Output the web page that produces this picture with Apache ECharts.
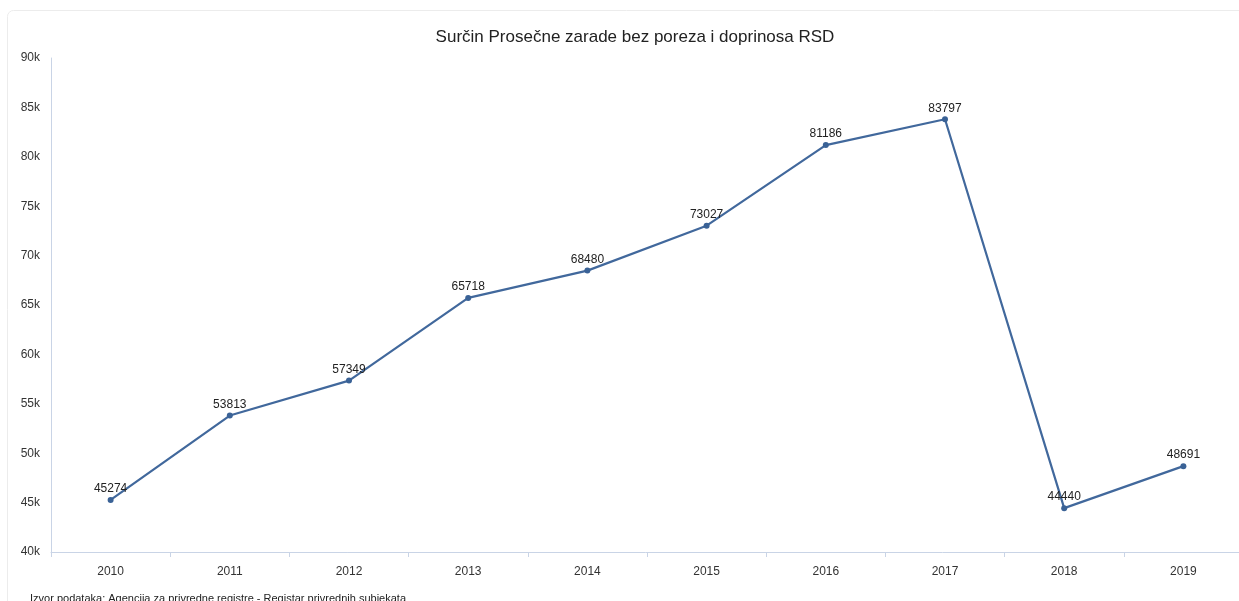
<!DOCTYPE html>
<html>
<head>
<meta charset="utf-8">
<script src="https://cdn.jsdelivr.net/npm/echarts@6/dist/echarts.min.js"></script>
<style>
  html, body { margin: 0; padding: 0; background: #fff; }
  #chart { width: 1239px; height: 601px; }
</style>
</head>
<body>
<div id="chart"></div>
<script>
const years = ['2010', '2011', '2012', '2013', '2014', '2015', '2016', '2017', '2018', '2019']
const zarade = [45274, 53813, 57349, 65718, 68480, 73027, 81186, 83797, 44440, 48691]

const chart = echarts.init(document.getElementById('chart'))

chart.setOption({
  animation: false,
  textStyle: { fontFamily: 'Liberation Sans, Arial, sans-serif' },
  title: {
    text: 'Surčin Prosečne zarade bez poreza i doprinosa RSD',
    left: 630,
    textAlign: 'center',
    top: 24,
    textStyle: { fontSize: 17, fontWeight: 'normal', color: '#222' }
  },
  graphic: [
    {
      type: 'rect',
      shape: { x: 7.5, y: 10.5, width: 1260, height: 620, r: 6 },
      style: { fill: 'none', stroke: '#ececec', lineWidth: 1 },
      silent: true
    },
    {
      type: 'text',
      left: 30,
      top: 593,
      style: {
        text: 'Izvor podataka: Agencija za privredne registre - Registar privrednih subjekata',
        fontSize: 11,
        fill: '#222',
        fontFamily: 'Liberation Sans, Arial, sans-serif'
      }
    }
  ],
  grid: { left: 51, top: 58, width: 1192, height: 494, outerBoundsMode: 'none', containLabel: false },
  xAxis: {
    type: 'category',
    data: years,
    boundaryGap: true,
    axisLine: { lineStyle: { color: '#c9d4e6' } },
    axisTick: { show: true, lineStyle: { color: '#c9d4e6' } },
    axisLabel: { color: '#333', fontSize: 12, margin: 14 }
  },
  yAxis: {
    type: 'value',
    min: 40000,
    max: 90000,
    interval: 5000,
    axisLine: { show: true, lineStyle: { color: '#c9d4e6' } },
    axisTick: { show: false },
    splitLine: { show: false },
    axisLabel: {
      color: '#333',
      fontSize: 12,
      margin: 11,
      formatter: v => (v / 1000) + 'k'
    }
  },
  series: [
    {
      type: 'line',
      data: zarade,
      symbol: 'circle',
      symbolSize: 6,
      lineStyle: { color: '#41689c', width: 2.2 },
      itemStyle: { color: '#3a6296' },
      label: {
        show: true,
        position: 'top',
        distance: 2,
        fontSize: 12,
        color: '#222'
      }
    }
  ]
})
</script>
</body>
</html>
